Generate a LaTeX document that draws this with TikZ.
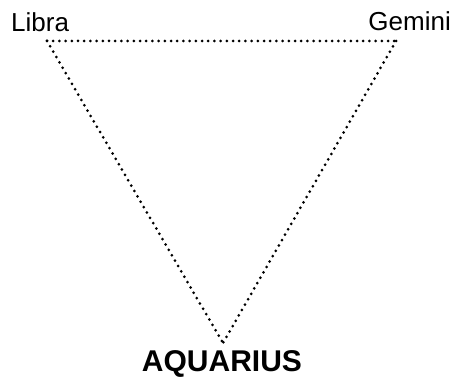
\documentclass[tikz,border=0pt]{standalone}
\usepackage{fontspec}
\setmainfont{Liberation Sans}
\begin{document}
\begin{tikzpicture}[x=1pt,y=-1pt,
  dotline/.style={line width=3pt,line cap=round,dash pattern=on 0pt off 6.2pt},
  sign/.style={font=\fontsize{26}{28}\selectfont,inner sep=0pt},
  bigsign/.style={font=\fontsize{30}{32}\selectfont\bfseries,inner sep=0pt}]
\useasboundingbox (0,0) rectangle (455,377);
\coordinate (L) at (47,41);
\coordinate (G) at (396,41);
\coordinate (A) at (223,343);
\draw[dotline] (L) -- (G);
\draw[dotline] (L) -- (A);
\draw[dotline] (G) -- (A);
\node[sign,anchor=base west] (libra) at (11,32) {Libra};
\node[sign,anchor=base east] (gemini) at (451,31) {Gemini};
\node[bigsign,anchor=base] (aquarius) at (222,371) {AQUARIUS};
\end{tikzpicture}
\end{document}
